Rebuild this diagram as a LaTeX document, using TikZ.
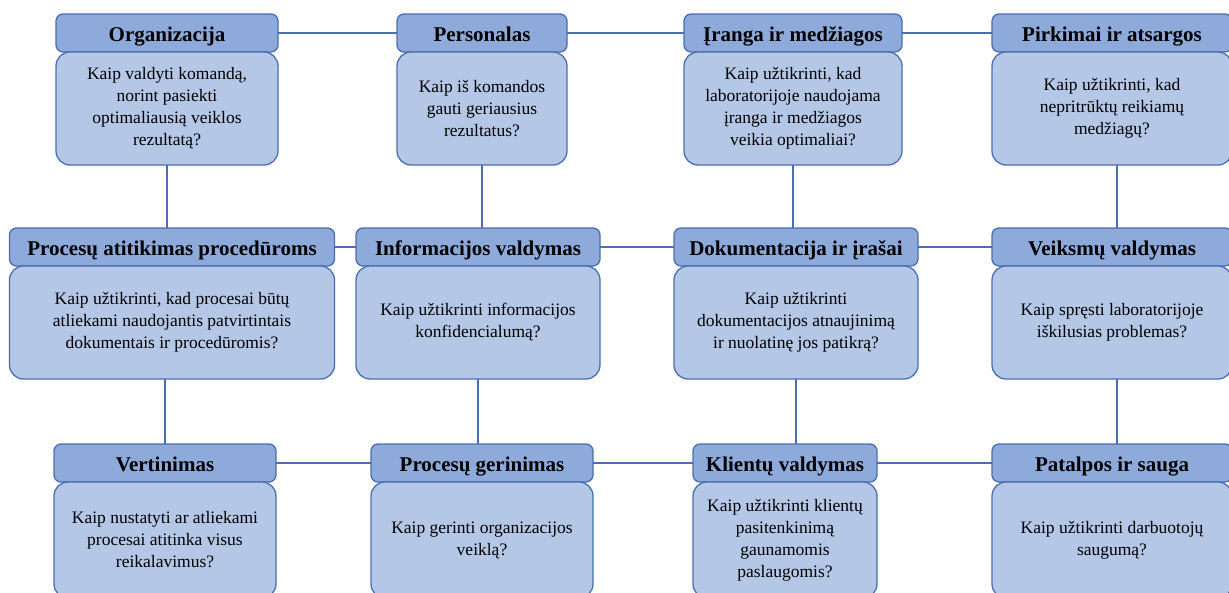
\documentclass[tikz,border=0pt]{standalone}
\usepackage{fontspec}
\setmainfont{Liberation Serif}
\usepackage{xcolor}
\usepackage{tikz}
\usetikzlibrary{positioning}

\definecolor{hdrblue}{HTML}{8EAADB}
\definecolor{bodyblue}{HTML}{B4C7E7}
\definecolor{edgeblue}{HTML}{4A6EB0}

\begin{document}
\begin{tikzpicture}[
    x=1pt, y=-1pt,
    topic/.style={rectangle, draw=edgeblue, line width=1.3pt, rounded corners=7pt, fill=hdrblue, minimum width=#1, minimum height=38pt, inner sep=0pt, outer sep=0pt, text height=18pt, text depth=1pt, font=\fontsize{21}{24}\selectfont\bfseries},
    question/.style={rectangle, draw=edgeblue, line width=1.3pt, rounded corners=14pt, fill=bodyblue, minimum width=#1, minimum height=113pt, inner sep=0pt, outer sep=0pt, align=center, font=\fontsize{17.5}{22}\selectfont},
    link/.style={draw=edgeblue, line width=1.4pt}
]
    \useasboundingbox (0,0) rectangle (1229,592);
    \clip (0,0) rectangle (1229,592);

    % first row
    \node[topic=222pt] (org) at (167,33) {Organizacija};
    \node[question=222pt, below=0pt of org] (orgq) {Kaip valdyti komandą,\\norint pasiekti\\optimaliausią veiklos\\rezultatą?};
    \node[topic=170pt] (pers) at (482,33) {Personalas};
    \node[question=170pt, below=0pt of pers] (persq) {Kaip iš komandos\\gauti geriausius\\rezultatus?};
    \node[topic=218pt] (iranga) at (793,33) {Įranga ir medžiagos};
    \node[question=218pt, below=0pt of iranga] (irangaq) {Kaip užtikrinti, kad\\laboratorijoje naudojama\\įranga ir medžiagos\\veikia optimaliai?};
    \node[topic=240pt] (pirk) at (1112,33) {Pirkimai ir atsargos};
    \node[question=240pt, below=0pt of pirk] (pirkq) {Kaip užtikrinti, kad\\nepritrūktų reikiamų\\medžiagų?};

    % second row
    \node[topic=325pt] (procat) at (172,247) {Procesų atitikimas procedūroms};
    \node[question=325pt, below=0pt of procat] (procatq) {Kaip užtikrinti, kad procesai būtų\\atliekami naudojantis patvirtintais\\dokumentais ir procedūromis?};
    \node[topic=244pt] (info) at (478,247) {Informacijos valdymas};
    \node[question=244pt, below=0pt of info] (infoq) {Kaip užtikrinti informacijos\\konfidencialumą?};
    \node[topic=244pt] (dok) at (796,247) {Dokumentacija ir įrašai};
    \node[question=244pt, below=0pt of dok] (dokq) {Kaip užtikrinti\\dokumentacijos atnaujinimą\\ir nuolatinę jos patikrą?};
    \node[topic=240pt] (veik) at (1112,247) {Veiksmų valdymas};
    \node[question=240pt, below=0pt of veik] (veikq) {Kaip spręsti laboratorijoje\\iškilusias problemas?};

    % third row
    \node[topic=222pt] (vert) at (165,463) {Vertinimas};
    \node[question=222pt, minimum height=116pt, below=0pt of vert] (vertq) {Kaip nustatyti ar atliekami\\procesai atitinka visus\\reikalavimus?};
    \node[topic=222pt] (pger) at (482,463) {Procesų gerinimas};
    \node[question=222pt, minimum height=116pt, below=0pt of pger] (pgerq) {Kaip gerinti organizacijos\\veiklą?};
    \node[topic=184pt] (klient) at (785,463) {Klientų valdymas};
    \node[question=184pt, minimum height=116pt, below=0pt of klient] (klientq) {Kaip užtikrinti klientų\\pasitenkinimą\\gaunamomis\\paslaugomis?};
    \node[topic=240pt] (pat) at (1112,463) {Patalpos ir sauga};
    \node[question=240pt, minimum height=116pt, below=0pt of pat] (patq) {Kaip užtikrinti darbuotojų\\saugumą?};

    % connectors
    \draw[link] (org) -- (pers);
    \draw[link] (pers) -- (iranga);
    \draw[link] (iranga) -- (pirk);
    \draw[link] (procat) -- (info);
    \draw[link] (info) -- (dok);
    \draw[link] (dok) -- (veik);
    \draw[link] (vert) -- (pger);
    \draw[link] (pger) -- (klient);
    \draw[link] (klient) -- (pat);

    \draw[link] (orgq.south) -- (orgq.south |- procat.north);
    \draw[link] (persq.south) -- (persq.south |- info.north);
    \draw[link] (irangaq.south) -- (irangaq.south |- dok.north);
    \draw[link] ([xshift=5pt]pirkq.south) -- ([xshift=5pt]pirkq.south |- veik.north);
    \draw[link] (procatq.south -| vert.north) -- (vert.north);
    \draw[link] (infoq.south) -- (infoq.south |- pger.north);
    \draw[link] (dokq.south) -- (dokq.south |- klient.north);
    \draw[link] ([xshift=5pt]veikq.south) -- ([xshift=5pt]veikq.south |- pat.north);
\end{tikzpicture}
\end{document}
